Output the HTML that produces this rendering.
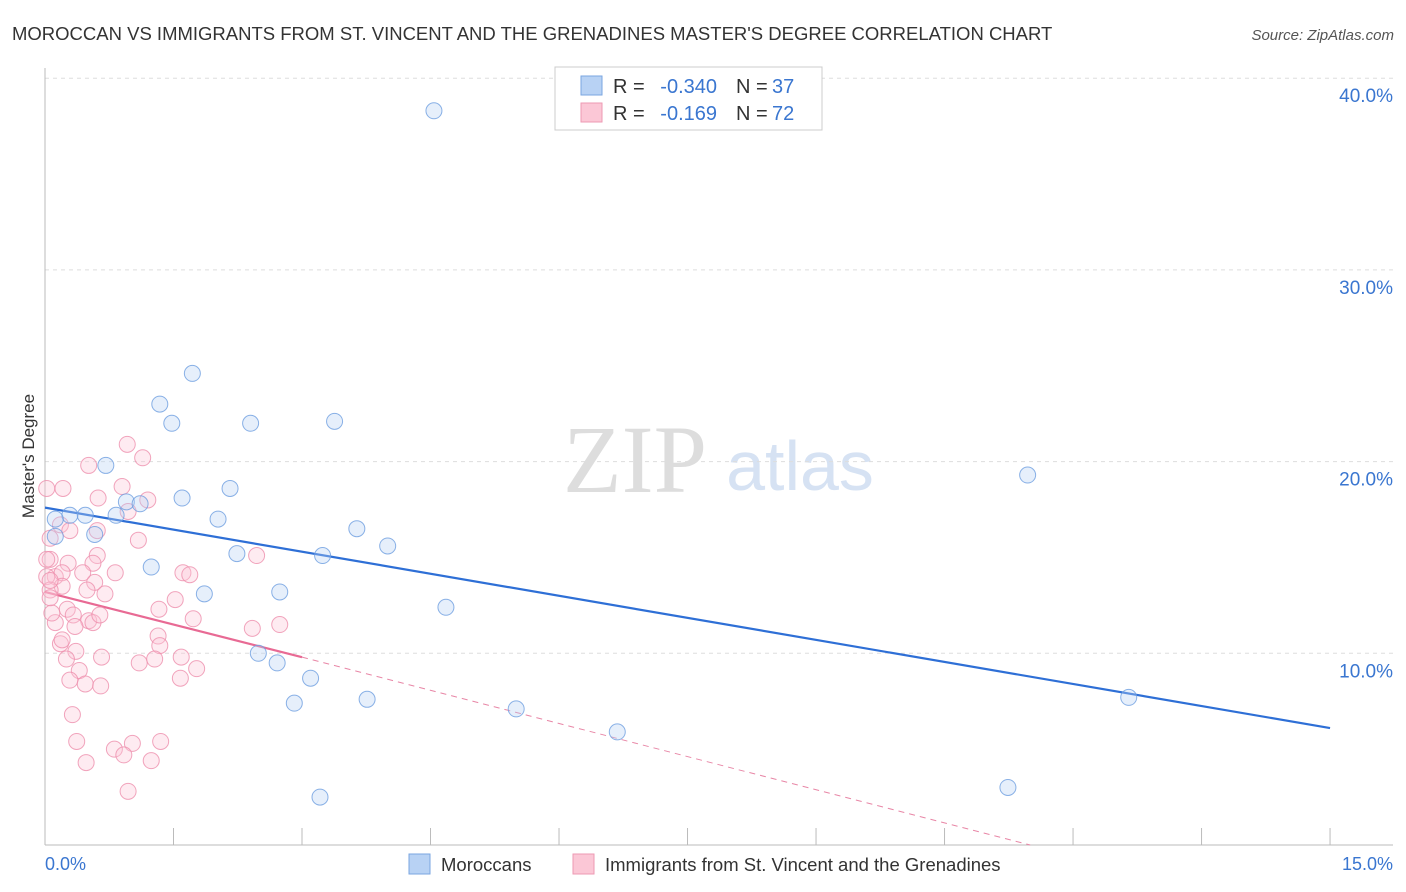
<!DOCTYPE html>
<html><head><meta charset="utf-8"><style>
body{margin:0;background:#fff;font-family:"Liberation Sans",sans-serif;}
svg{display:block}
</style></head><body>
<svg width="1406" height="892" xmlns="http://www.w3.org/2000/svg">
<text x="12" y="40" font-size="18.5" fill="#333">MOROCCAN VS IMMIGRANTS FROM ST. VINCENT AND THE GRENADINES MASTER'S DEGREE CORRELATION CHART</text>
<text x="1394" y="40" font-size="15" fill="#555" font-style="italic" text-anchor="end">Source: ZipAtlas.com</text>
<text x="635" y="492" font-size="96" fill="#ddd" font-family="Liberation Serif,serif" text-anchor="middle">ZIP</text>
<text x="800" y="490" font-size="70" fill="#d6e2f3" text-anchor="middle">atlas</text>
<g id="grid"></g><g id="axes"></g><g id="lines"></g><g id="pts"></g>
<text transform="translate(34,456) rotate(-90)" font-size="17" fill="#333" text-anchor="middle">Master's Degree</text>
<text x="45" y="870" font-size="18" fill="#3a76d0">0.0%</text>
<text x="1393" y="870" font-size="18" fill="#3a76d0" text-anchor="end">15.0%</text>
<g>
<rect x="555" y="67" width="267" height="63" fill="#fff" stroke="#ccc"/>
<rect x="581" y="76" width="21" height="19" fill="#b8d2f4" stroke="#7aa6e0"/>
<rect x="581" y="103" width="21" height="19" fill="#fbc7d6" stroke="#ee9ab3"/>
<text x="613" y="93" font-size="20" fill="#333">R =</text>
<text x="717" y="93" font-size="20" fill="#3a76d0" text-anchor="end">-0.340</text>
<text x="736" y="93" font-size="20" fill="#333">N =</text>
<text x="772" y="93" font-size="20" fill="#3a76d0">37</text>
<text x="613" y="120" font-size="20" fill="#333">R =</text>
<text x="717" y="120" font-size="20" fill="#3a76d0" text-anchor="end">-0.169</text>
<text x="736" y="120" font-size="20" fill="#333">N =</text>
<text x="772" y="120" font-size="20" fill="#3a76d0">72</text>
</g>
<g>
<rect x="409" y="854" width="21" height="20" fill="#b8d2f4" stroke="#7aa6e0"/>
<text x="441" y="871" font-size="18.5" fill="#333">Moroccans</text>
<rect x="573" y="854" width="21" height="20" fill="#fbc7d6" stroke="#ee9ab3"/>
<text x="605" y="871" font-size="18.5" fill="#333">Immigrants from St. Vincent and the Grenadines</text>
</g>
</svg>
<script>
const yTicks=[10,20,30,40];
const xTicks=[0,1.5,3,4.5,6,7.5,9,10.5,12,13.5,15];
const blueX=[4.54,1.72,1.34,1.48,2.40,3.38,0.71,2.16,1.60,0.95,1.11,0.83,0.47,0.29,2.02,3.64,0.58,0.12,2.24,3.24,4.00,1.24,1.86,2.74,4.68,2.49,2.71,3.10,2.91,3.76,5.50,6.68,3.21,11.47,12.65,11.24,0.12];
const blueY=[38.3,24.6,23.0,22.0,22.0,22.1,19.8,18.6,18.1,17.9,17.8,17.2,17.2,17.2,17.0,16.5,16.2,16.1,15.2,15.1,15.6,14.5,13.1,13.2,12.4,10.0,9.5,8.7,7.4,7.6,7.1,5.9,2.5,19.3,7.7,3.0,17.0];
const pinkX=[0.96,1.14,0.51,0.21,0.02,0.62,1.20,0.90,0.97,0.18,0.61,0.29,0.06,1.09,0.61,2.47,0.06,0.27,0.56,0.12,0.02,0.82,1.61,0.20,0.44,0.58,0.20,0.70,0.49,0.06,1.52,0.26,1.33,0.33,1.73,0.51,0.56,0.12,2.42,2.74,1.32,0.18,1.34,0.36,0.25,0.66,1.10,1.28,1.59,1.77,0.40,1.58,0.29,0.47,0.65,0.32,0.37,1.35,1.02,0.81,0.92,0.48,1.24,0.97,0.08,0.02,0.06,0.35,0.20,0.06,1.69,0.64];
const pinkY=[20.9,20.2,19.8,18.6,18.6,18.1,18.0,18.7,17.4,16.7,16.4,16.4,16.0,15.9,15.1,15.1,14.9,14.7,14.7,14.0,14.0,14.2,14.2,14.2,14.2,13.7,13.5,13.1,13.3,13.3,12.8,12.3,12.3,12.0,11.8,11.7,11.6,11.6,11.3,11.5,10.9,10.5,10.4,10.1,9.7,9.8,9.5,9.7,9.8,9.2,9.1,8.7,8.6,8.4,8.3,6.8,5.4,5.4,5.3,5.0,4.7,4.3,4.4,2.8,12.1,14.9,13.8,11.4,10.7,12.9,14.1,12.0];
const blueLine=[0,17.6,15,6.1];
const pinkLine=[0,13.2,3,9.8,11.5,0];
const NS='http://www.w3.org/2000/svg';
const sx=v=>45+v*85.67, sy=v=>845-v*19.17;
function mk(t,a,p){const e=document.createElementNS(NS,t);for(const k in a)e.setAttribute(k,a[k]);p.appendChild(e);return e;}
const grid=document.getElementById('grid'),axes=document.getElementById('axes'),lines=document.getElementById('lines'),pts=document.getElementById('pts');
yTicks.forEach(t=>{
 const l=mk('line',{x1:45,x2:1393,y1:sy(t),y2:sy(t),stroke:'#ddd','stroke-dasharray':'4,4'},grid);
 
 
 const tx=mk('text',{x:1393,y:sy(t)+24,'font-size':19,fill:'#3a76d0','text-anchor':'end'},grid);
 tx.textContent=t.toFixed(1)+'%';
 
 
});
const ax=mk('line',{x1:45,x2:1393,y1:845,y2:845,stroke:'#bbb'},axes);


const ay=mk('line',{x1:45,x2:45,y1:68,y2:845,stroke:'#bbb'},axes);


xTicks.forEach(t=>{const l=mk('line',{x1:sx(t),x2:sx(t),y1:828,y2:845,stroke:'#bbb'},axes);
 
 });
function pt(x,y,f,s,n){const c=mk('circle',{cx:sx(x),cy:sy(y),r:8,fill:f,'fill-opacity':0.35,stroke:s,'stroke-width':1,'stroke-opacity':0.8},pts);
 
 }
pinkX.forEach((x,i)=>pt(x,pinkY[i],'#fbc7d6','#ee8fad','pink-point'));
blueX.forEach((x,i)=>pt(x,blueY[i],'#b8d2f4','#6d9ee0','blue-point'));
const bl=mk('line',{x1:sx(blueLine[0]),y1:sy(blueLine[1]),x2:sx(blueLine[2]),y2:sy(blueLine[3]),stroke:'#2e6fd6','stroke-width':2.2},lines);


const pl=mk('line',{x1:sx(pinkLine[0]),y1:sy(pinkLine[1]),x2:sx(pinkLine[2]),y2:sy(pinkLine[3]),stroke:'#e86a94','stroke-width':2.2},lines);


const pd=mk('line',{x1:sx(pinkLine[2]),y1:sy(pinkLine[3]),x2:sx(pinkLine[4]),y2:sy(pinkLine[5]),stroke:'#e886a6','stroke-width':1,'stroke-dasharray':'6,5'},lines);


</script>
</body></html>
